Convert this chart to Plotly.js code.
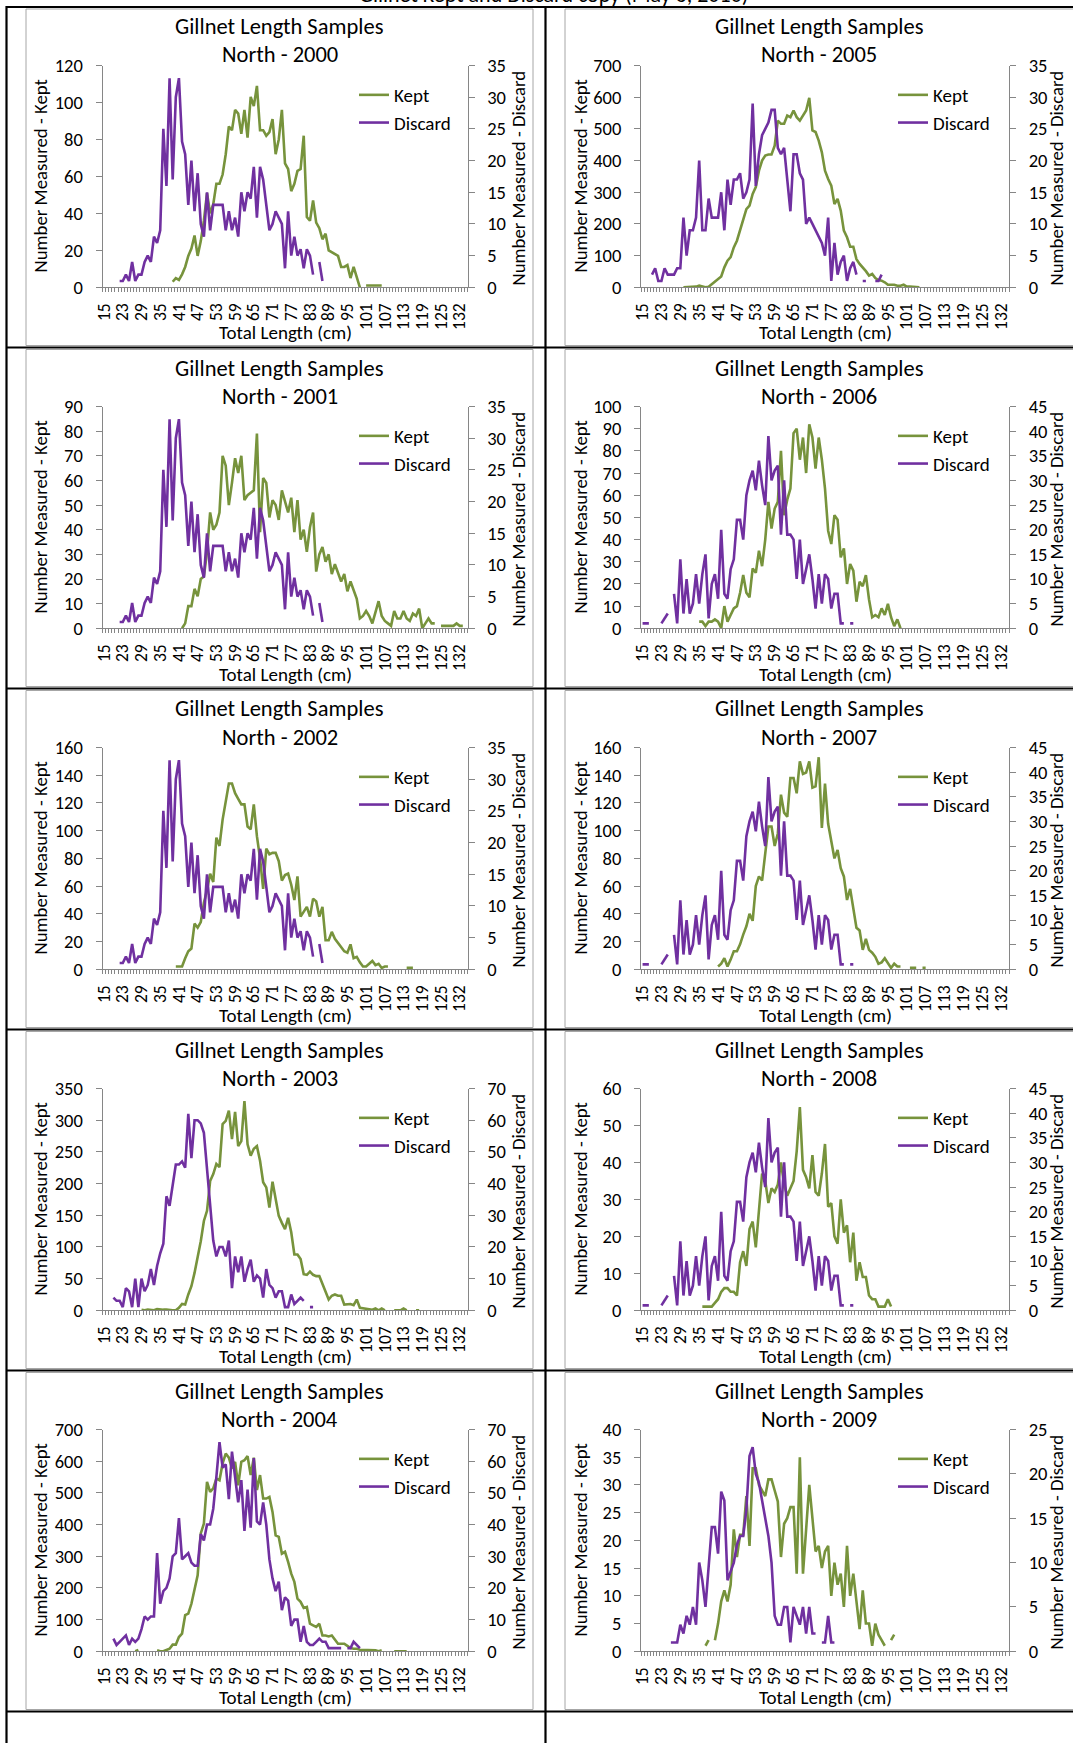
<!DOCTYPE html>
<html>
<head>
<meta charset="utf-8">
<script src="https://cdn.plot.ly/plotly-3.0.1.min.js"></script>
<style>
html,body{margin:0;padding:0;background:#fff;}
#chart{width:1073px;height:1743px;}
</style>
</head>
<body>
<div id="chart"></div>
<script>
// ---------- categories (length classes, cm) ----------
const lengthClasses = [15,16,18,19,20,22,23,24,25,26,27,28,29,30,31,32,33,34,35,36,37,38,39,40,41,42,43,44,45,46,47,48,49,50,51,52,53,54,55,56,57,58,59,60,61,62,63,64,65,66,67,68,69,70,71,72,73,74,75,76,77,78,79,80,81,82,83,84,85,86,87,88,89,90,91,92,93,94,95,96,97,98,99,100,101,102,103,104,105,106,107,108,109,110,111,112,113,114,115,116,117,118,119,120,121,122,123,124,125,126,127,128,129,130,132,133,134];
const tickLabels = [15,23,29,35,41,47,53,59,65,71,77,83,89,95,101,107,113,119,125,132];
const years = [2000,2001,2002,2003,2004,2005,2006,2007,2008,2009];

// ---------- series (counts per length class, starting at the given length) ----------
const discard2000From = 22;
const discard2000 = [1,1,2,1,4,1,2,2,4,5,4,8,7,9,25,16,33,17,30,33,23,21,13,20,12,18,10,8,15,9,13,13,13,13,9,12,9,11,8,15,12,15,14,19,11,19,17,13,9,10,12,11,10,3,12,5,8,5,6,3,6,5,2,null,4,1];
const kept2000From = 39;
const kept2000 = [3,5,4,7,11,17,21,28,17,25,36,51,40,45,56,56,61,72,87,85,96,94,83,96,81,103,98,109,85,85,82,84,91,72,80,96,67,64,52,56,63,64,82,38,36,47,35,32,26,29,20,19,18,17,11,11,12,5,11,5,0,null,1,1,1,1,1,1];

const discard2001From = 22;
const discard2001 = [1,1,2,1,4,1,2,2,4,5,4,8,7,9,25,16,33,17,30,33,23,21,13,20,12,18,10,8,15,9,13,13,13,13,9,12,9,11,8,15,12,15,14,19,11,19,17,13,9,10,12,11,10,3,12,5,8,5,6,3,6,5,2,null,4,1];
const kept2001From = 42;
const kept2001 = [0,2,9,9,16,13,20,21,31,47,40,42,47,70,66,50,59,69,63,70,52,54,55,56,79,39,61,59,45,52,50,44,56,52,47,53,39,52,36,40,31,41,47,23,30,33,27,30,22,26,22,19,22,15,19,15,12,4,5,7,5,2,7,11,5,3,2,1,7,4,4,7,4,3,6,5,8,0,2,4,2,2,null,1,1,1,1,1,2,1,1];

const discard2002From = 22;
const discard2002 = [1,1,2,1,4,1,2,2,4,5,4,8,7,9,25,16,33,17,30,33,23,21,13,20,12,18,10,8,15,9,13,13,13,13,9,12,9,11,8,15,12,15,14,19,11,19,17,13,9,10,12,11,10,3,12,5,8,5,6,3,6,5,2,null,4,1];
const kept2002From = 40;
const kept2002 = [2,2,2,8,13,15,33,30,34,48,57,69,63,95,89,108,122,134,134,127,123,119,119,103,101,119,96,80,58,87,83,84,84,78,64,68,69,61,50,67,38,42,45,38,51,49,38,45,21,21,27,22,19,16,13,12,18,8,9,5,2,2,4,6,3,4,1,2,2,null,null,null,null,null,1,1,1];

const discard2003From = 19;
const discard2003 = [4,3,3,1,7,6,1,10,1,10,6,8,13,8,14,18,21,36,33,40,46,46,47,45,62,48,60,60,59,56,45,33,22,17,20,20,17,22,7,17,12,17,9,13,16,9,11,10,4,13,8,7,4,6,6,1,1,5,2,3,4,3,null,1,1];
const kept2003From = 29;
const kept2003 = [1,0,1,0,0,2,1,1,1,0,0,0,4,10,9,25,38,59,83,109,141,157,204,215,231,226,294,299,315,270,313,259,267,330,262,244,255,259,236,202,194,162,203,178,149,138,128,146,123,88,88,81,57,56,61,56,54,54,41,28,17,23,25,23,23,9,9,10,8,17,4,3,3,1,1,3,0,3,0,null,null,0,0,0,3,0,null,null,0,0];

const discard2004From = 19;
const discard2004 = [4,2,3,4,5,2,4,3,4,7,11,10,11,11,31,15,19,20,23,30,31,42,29,30,31,28,27,27,37,35,40,40,45,55,66,58,59,48,63,55,47,54,38,51,39,61,41,40,47,40,29,23,19,22,13,17,16,8,10,10,3,8,3,2,2,3,4,3,3,1,1,1,1,1,null,1,1,3,2,1];
const kept2004From = 27;
const kept2004 = [0,4,null,null,null,null,null,3,0,0,3,8,21,21,45,56,114,119,150,198,240,372,403,535,503,514,545,540,593,624,611,577,598,524,598,603,616,556,611,509,556,482,482,487,440,366,361,308,314,282,245,219,166,156,137,140,87,82,77,87,50,50,47,50,35,24,24,24,17,10,8,8,5,5,3,3,3,3,0,3,null,null,null,0,0,0,2,0];

const discard2005From = 19;
const discard2005 = [2,3,1,1,3,2,2,2,3,3,11,5,9,9,11,20,9,9,14,11,11,11,15,9,17,13,17,17,18,14,15,17,29,16,21,24,25,26,28,28,22,21,22,17,12,21,21,18,17,10,11,10,9,8,7,5,11,1,7,2,4,5,1,3,4,2,null,1,1,null,null,1,1,2];
const kept2005From = 30;
const kept2005 = [0,0,0,2,2,5,2,0,2,10,21,28,34,63,84,95,126,147,179,211,247,258,295,316,368,400,416,419,419,447,526,516,516,542,537,558,537,526,542,558,598,495,490,463,426,368,342,321,263,279,242,179,158,128,128,89,74,63,51,37,42,29,23,21,16,8,8,8,5,5,8,2,2,2,0,0];

const discard2006From = 15;
const discard2006 = [1,1,1,null,null,null,1,2,3,null,7,1,14,3,10,3,5,11,5,11,15,2,9,11,6,20,7,6,12,14,22,22,18,27,30,32,28,34,29,25,39,30,32,33,19,30,19,19,18,10,18,9,12,15,10,4,11,5,11,10,4,7,7,1,1,null,1,1];
const kept2006From = 35;
const kept2006 = [3,3,1,3,3,4,3,0,10,3,6,9,10,16,24,16,14,27,25,35,28,40,57,45,54,57,80,51,58,63,88,90,76,86,70,92,86,72,86,76,63,44,38,51,49,32,36,20,29,26,12,21,19,24,13,5,6,5,9,6,11,5,1,4,0];

const discard2007From = 15;
const discard2007 = [1,1,1,null,null,null,1,2,3,null,7,1,14,3,10,3,5,11,5,11,15,2,9,11,6,20,7,6,12,14,22,22,18,27,30,32,28,34,29,25,39,30,32,33,19,30,19,19,18,10,18,9,12,15,10,4,11,5,11,10,4,7,7,1,1,null,1,1];
const kept2007From = 41;
const kept2007 = [2,4,8,2,7,13,13,18,25,31,40,35,60,67,64,85,103,103,89,98,126,113,110,138,138,127,150,141,142,150,131,132,153,102,134,105,91,80,86,73,67,50,58,45,30,28,14,22,14,12,9,4,5,8,4,1,4,2,2,null,null,1,1,1,null,1,1];

const discard2008From = 15;
const discard2008 = [1,1,1,null,null,null,1,2,3,null,7,1,14,3,10,3,5,11,5,11,15,2,9,11,6,20,7,6,12,14,22,22,18,27,30,32,28,34,29,25,39,30,32,33,19,30,19,19,18,10,18,9,12,15,10,4,11,5,11,10,4,7,7,1,1,null,1,1];
const kept2008From = 36;
const kept2008 = [1,1,1,1,2,3,5,6,6,5,5,4,13,16,12,22,24,17,27,37,35,29,33,32,34,40,34,31,33,35,43,55,38,36,33,42,32,31,37,45,28,29,20,18,30,21,23,13,21,8,13,9,9,4,3,3,1,1,1,3,1];

const discard2009From = 26;
const discard2009 = [1,1,1,3,2,4,3,5,3,10,8,5,10,14,14,11,18,17,8,9,10,12,13,13,16,22,23,20,19,17,15,13,10,4,3,3,5,5,1,5,4,3,5,2,5,2,2,null,1,1,4,1,1];
const kept2009From = 37;
const kept2009 = [1,2,null,2,5,9,11,9,12,22,17,21,21,28,19,33,33,30,29,28,31,31,29,27,17,23,24,26,26,14,35,14,22,30,24,18,19,15,18,19,10,16,12,14,8,19,10,14,9,4,11,5,5,1,5,3,2,1,null,2,3];

// ---------- axis extents per panel ----------
const keptAxisMax  = [120, 90, 160, 350, 700, 700, 100, 160, 60, 40];
const keptAxisStep = [20, 10, 20, 50, 100, 100, 10, 20, 10, 5];
const discardAxisMax  = [35, 35, 35, 70, 70, 35, 45, 45, 45, 25];
const discardAxisStep = [5, 5, 5, 10, 10, 5, 5, 5, 5, 5];

const keptSeries = [kept2000,kept2001,kept2002,kept2003,kept2004,kept2005,kept2006,kept2007,kept2008,kept2009];
const keptFrom = [kept2000From,kept2001From,kept2002From,kept2003From,kept2004From,kept2005From,kept2006From,kept2007From,kept2008From,kept2009From];
const discardSeries = [discard2000,discard2001,discard2002,discard2003,discard2004,discard2005,discard2006,discard2007,discard2008,discard2009];
const discardFrom = [discard2000From,discard2001From,discard2002From,discard2003From,discard2004From,discard2005From,discard2006From,discard2007From,discard2008From,discard2009From];

// ---------- page geometry ----------
const W = 1073, H = 1743;
const px = v => v / W;
const py = v => 1 - v / H;
const FONT = 'Carlito, Lato, "Open Sans", sans-serif';
const GREEN = '#77933C', PURPLE = '#7030A0', AXIS = '#868686';
const plotX = [[102.5, 467.5], [641, 1009]];
const chartCenter = [279.5, 819];
const leftTitleX = [40, 580];
const rightTitleX = [518, 1056];
const legendX = [354, 893];
const ROW = 341;
const plotTop = 65.5, plotBottom = 287.3;

const tickIdx = tickLabels.map(l => lengthClasses.indexOf(l));
function xIndices(from, vals) {
  const i0 = lengthClasses.indexOf(from);
  return vals.map((v, i) => i0 + i);
}

const traces = [];
const layout = {
  width: W, height: H,
  margin: {l: 0, r: 0, t: 0, b: 0, pad: 0},
  paper_bgcolor: '#fff', plot_bgcolor: 'rgba(0,0,0,0)',
  font: {family: FONT, color: '#000', size: 16},
  showlegend: true,
  annotations: [], shapes: []
};

years.forEach((yr, k) => {
  const n = k + 1;
  const col = k < 5 ? 0 : 1;
  const row = k % 5;
  const xa = n === 1 ? 'x' : 'x' + n;
  const y1 = 2 * n - 1 === 1 ? 'y' : 'y' + (2 * n - 1);
  const y2 = 'y' + (2 * n);
  const top = plotTop + ROW * row, bottom = plotBottom + ROW * row;
  const yDom = [py(bottom), py(top)];
  const xDom = [px(plotX[col][0]), px(plotX[col][1])];
  const lg = n === 1 ? 'legend' : 'legend' + n;

  traces.push({
    type: 'scatter', mode: 'lines', name: 'Kept',
    x: xIndices(keptFrom[k], keptSeries[k]), y: keptSeries[k],
    xaxis: xa, yaxis: y1, connectgaps: false,
    line: {color: GREEN, width: 2.6},
    legend: lg, legendgroup: 'k' + n, hoverinfo: 'skip'
  });
  traces.push({
    type: 'scatter', mode: 'lines', name: 'Discard',
    x: xIndices(discardFrom[k], discardSeries[k]), y: discardSeries[k],
    xaxis: xa, yaxis: y2, connectgaps: false,
    line: {color: PURPLE, width: 2.6},
    legend: lg, legendgroup: 'd' + n, hoverinfo: 'skip'
  });

  layout['xaxis' + (n === 1 ? '' : n)] = {
    domain: xDom, anchor: y1, type: 'linear',
    range: [-0.5, lengthClasses.length - 0.5], fixedrange: true,
    tickmode: 'array', tickvals: tickIdx, ticktext: tickLabels.map(String),
    tickangle: -90, ticks: '', ticklabelstandoff: 8,
    tickfont: {family: FONT, size: 17.5, color: '#000'},
    showline: true, linecolor: AXIS, linewidth: 1,
    showgrid: false, zeroline: false,
    minor: {tickmode: 'linear', tick0: -0.5, dtick: 1, ticks: 'outside', ticklen: 4, tickcolor: AXIS, tickwidth: 1, showgrid: false}
  };
  layout['yaxis' + (2 * n - 1 === 1 ? '' : 2 * n - 1)] = {
    domain: yDom, anchor: xa, range: [0, keptAxisMax[k]], fixedrange: true,
    tickmode: 'linear', tick0: 0, dtick: keptAxisStep[k],
    ticks: 'outside', ticklen: 6, tickcolor: AXIS, ticklabelstandoff: 9,
    tickfont: {family: FONT, size: 18.5, color: '#000'},
    showline: true, linecolor: AXIS, linewidth: 1,
    showgrid: false, zeroline: false
  };
  layout['yaxis' + (2 * n)] = {
    domain: yDom, anchor: xa, overlaying: y1, side: 'right',
    range: [0, discardAxisMax[k]], fixedrange: true,
    tickmode: 'linear', tick0: 0, dtick: discardAxisStep[k],
    ticks: 'outside', ticklen: 6, tickcolor: AXIS, ticklabelstandoff: 9,
    tickfont: {family: FONT, size: 18.5, color: '#000'},
    showline: true, linecolor: AXIS, linewidth: 1,
    showgrid: false, zeroline: false
  };
  layout[lg] = {
    x: px(legendX[col]), xanchor: 'left',
    y: py(76 + ROW * row), yanchor: 'top',
    bgcolor: 'rgba(0,0,0,0)', borderwidth: 0,
    font: {family: FONT, size: 19, color: '#000'},
    tracegroupgap: 0, itemclick: false, itemdoubleclick: false
  };

  const cy = (top + bottom) / 2;
  const ann = layout.annotations;
  ann.push({xref: 'paper', yref: 'paper', x: px(chartCenter[col]), y: py(27 + ROW * row),
    text: 'Gillnet Length Samples', showarrow: false, xanchor: 'center', yanchor: 'middle',
    font: {family: FONT, size: 22.5, color: '#000'}});
  ann.push({xref: 'paper', yref: 'paper', x: px(chartCenter[col]), y: py(55 + ROW * row),
    text: 'North - ' + yr, showarrow: false, xanchor: 'center', yanchor: 'middle',
    font: {family: FONT, size: 22.5, color: '#000'}});
  ann.push({xref: 'paper', yref: 'paper', x: px(leftTitleX[col]), y: py(cy),
    text: 'Number Measured - Kept', textangle: -90, showarrow: false, xanchor: 'center', yanchor: 'middle',
    font: {family: FONT, size: 18.8, color: '#000'}});
  ann.push({xref: 'paper', yref: 'paper', x: px(rightTitleX[col]), y: py(cy + 2),
    text: 'Number Measured - Discard', textangle: -90, showarrow: false, xanchor: 'center', yanchor: 'middle',
    font: {family: FONT, size: 18.8, color: '#000'}});
  ann.push({xref: 'paper', yref: 'paper', x: px((plotX[col][0] + plotX[col][1]) / 2), y: py(333 + ROW * row),
    text: 'Total Length (cm)', showarrow: false, xanchor: 'center', yanchor: 'middle',
    font: {family: FONT, size: 19, color: '#000'}});
});

// partially visible heading above the table
layout.annotations.push({xref: 'paper', yref: 'paper', x: px(553), y: py(-6), yanchor: 'middle',
  text: 'Gillnet Kept and Discard copy (May 6, 2010)', showarrow: false,
  font: {family: FONT, size: 22, color: '#000'}});

// table cell borders and chart-area frames
const rowLines = [7, 347.5, 688.5, 1029.5, 1370.5, 1711.5];
const sh = layout.shapes;
rowLines.forEach(y => sh.push({type: 'line', xref: 'paper', yref: 'paper', x0: px(6), x1: 1, y0: py(y), y1: py(y),
  line: {color: '#000', width: 2.2}}));
[6.5, 545.5].forEach(x => sh.push({type: 'line', xref: 'paper', yref: 'paper', x0: px(x), x1: px(x), y0: py(6), y1: 0,
  line: {color: '#000', width: 2.2}}));
for (let r = 0; r < 5; r++) {
  const t = rowLines[r] + 2, b = rowLines[r + 1] - 2;
  sh.push({type: 'rect', xref: 'paper', yref: 'paper', x0: px(26), x1: px(533), y0: py(b), y1: py(t),
    line: {color: '#A6A6A6', width: 1}, fillcolor: 'rgba(0,0,0,0)', layer: 'below'});
  sh.push({type: 'rect', xref: 'paper', yref: 'paper', x0: px(565), x1: px(1090), y0: py(b), y1: py(t),
    line: {color: '#A6A6A6', width: 1}, fillcolor: 'rgba(0,0,0,0)', layer: 'below'});
}

Plotly.newPlot('chart', traces, layout, {staticPlot: true, displayModeBar: false});
</script>
</body>
</html>
